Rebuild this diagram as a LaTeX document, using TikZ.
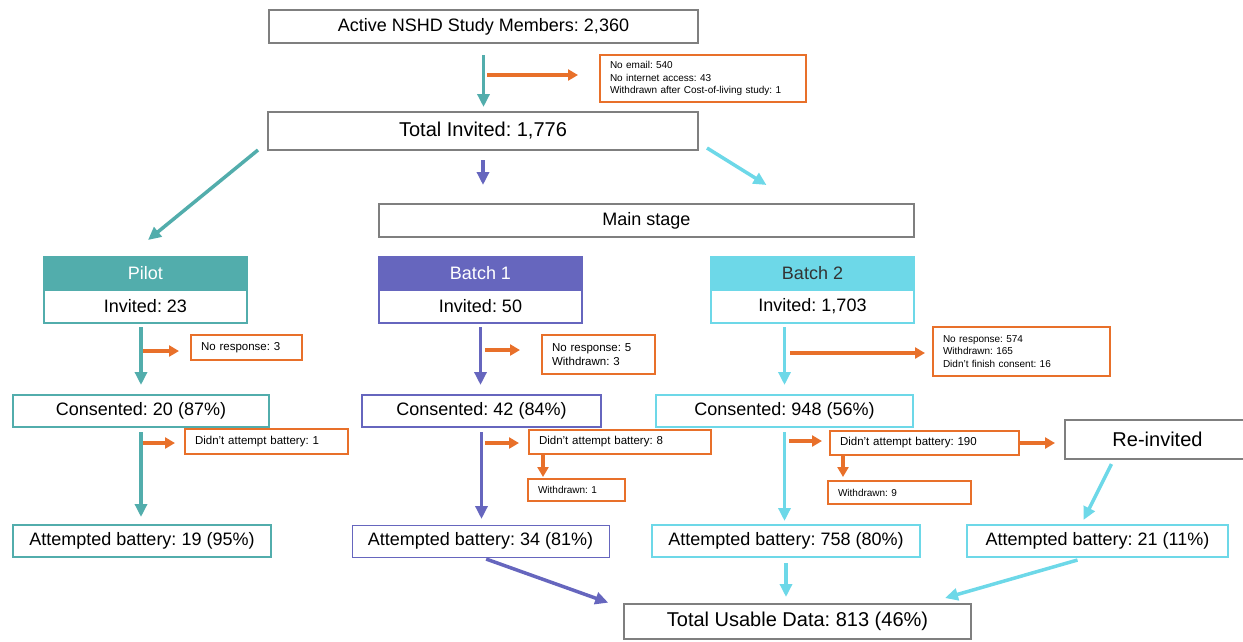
\documentclass[tikz,border=0pt]{standalone}
\usepackage{fontspec}
\setmainfont{Liberation Sans}
\usetikzlibrary{arrows.meta}
\definecolor{pilotteal}{HTML}{52ADAC}
\definecolor{batchpurple}{HTML}{6666BE}
\definecolor{batchcyan}{HTML}{6DD8E8}
\definecolor{droporange}{HTML}{E8702A}
\definecolor{boxgray}{HTML}{7F7F7F}
\frenchspacing

\begin{document}
\begin{tikzpicture}[x=1pt,y=-1pt,
  every node/.style={inner sep=0pt,outer sep=0pt},
  graybox/.style={draw=boxgray,line width=2.5pt,fill=white,font=\fontsize{18}{21}\selectfont},
  bigtext/.style={font=\fontsize{20}{24}\selectfont},
  headbox/.style={draw=#1,fill=#1,line width=1.5pt,minimum width=203pt,minimum height=33pt,font=\fontsize{18}{21}\selectfont},
  stagebox/.style={draw=#1,line width=1.5pt,fill=white,minimum height=32pt,font=\fontsize{18}{21}\selectfont},
  dropbox/.style={draw=droporange,line width=1.2pt,align=left,inner xsep=10pt,font=\fontsize{10}{12.5}\selectfont},
  bigdrop/.style={dropbox,font=\fontsize{11.5}{14}\selectfont},
  flow/.style={-{Triangle[length=13pt,width=12pt]},line width=3.5pt},
  drop/.style={-{Triangle[length=10pt,width=11pt]},line width=3.5pt,color=droporange}
]
\useasboundingbox (0,0) rectangle (1243,641);

\node[graybox,minimum width=429pt,minimum height=33pt] (members) at (483.5,26.5) {Active NSHD Study Members: 2,360};
\node[dropbox,text width=186pt,minimum height=47pt] (excluded) at (703,78.5) {No email: 540\\No internet access: 43\\Withdrawn after Cost-of-living study: 1};
\node[graybox,bigtext,minimum width=430pt,minimum height=38pt] (invited) at (483,131) {Total Invited: 1,776};
\node[graybox,minimum width=535pt,minimum height=33pt] (mainstage) at (646.5,220.5) {Main stage};

\node[headbox=pilotteal,text=white] (pilothead) at (145.5,273.5) {Pilot};
\node[stagebox=pilotteal,minimum width=203pt,minimum height=33pt] (pilotinv) at (145.5,306.5) {Invited: 23};
\node[bigdrop,text width=91pt,minimum height=25pt] (pilotnr) at (246.5,347.5) {No response: 3};
\node[stagebox=pilotteal,minimum width=256pt] (pilotcon) at (141,411) {Consented: 20 (87\%)};
\node[bigdrop,text width=143pt,minimum height=25pt] (pilotdna) at (266.5,441.5) {Didn’t attempt battery: 1};
\node[stagebox=pilotteal,minimum width=258pt] (pilotatt) at (142,541) {Attempted battery: 19 (95\%)};

\node[headbox=batchpurple,text=white] (bonehead) at (480.5,273.5) {Batch 1};
\node[stagebox=batchpurple,minimum width=203pt,minimum height=33pt] (boneinv) at (480.5,306.5) {Invited: 50};
\node[bigdrop,text width=93pt,minimum height=39pt] (bonenr) at (598.5,354.5) {No response: 5\\Withdrawn: 3};
\node[stagebox=batchpurple,minimum width=239pt] (bonecon) at (481.5,411) {Consented: 42 (84\%)};
\node[bigdrop,text width=162pt,minimum height=24pt] (bonedna) at (620,442) {Didn’t attempt battery: 8};
\node[dropbox,text width=77pt,minimum height=22pt] (bonewd) at (576.5,490) {Withdrawn: 1};
\node[stagebox=batchpurple,line width=1pt,minimum width=257pt] (boneatt) at (480.5,541) {Attempted battery: 34 (81\%)};

\node[headbox=batchcyan,text=black!80] (btwohead) at (812.5,273.5) {Batch 2};
\node[stagebox=batchcyan,minimum width=203pt,minimum height=33pt] (btwoinv) at (812.5,306.5) {Invited: 1,703};
\node[dropbox,text width=157pt,minimum height=49pt] (btwonr) at (1021.5,351.5) {No response: 574\\Withdrawn: 165\\Didn’t finish consent: 16};
\node[stagebox=batchcyan,minimum width=257pt] (btwocon) at (784.5,411) {Consented: 948 (56\%)};
\node[bigdrop,text width=169pt,minimum height=24pt] (btwodna) at (924.5,443) {Didn’t attempt battery: 190};
\node[dropbox,text width=123pt,minimum height=23pt] (btwowd) at (899.5,492.5) {Withdrawn: 9};
\node[graybox,bigtext,minimum width=185pt,minimum height=39pt] (reinv) at (1157.5,439.5) {Re-invited};
\node[stagebox=batchcyan,minimum width=268pt] (btwoatt) at (786,541) {Attempted battery: 758 (80\%)};
\node[stagebox=batchcyan,minimum width=261pt] (reatt) at (1097.5,541) {Attempted battery: 21 (11\%)};

\node[graybox,bigtext,minimum width=347pt,minimum height=35pt] (usable) at (797.5,621.5) {Total Usable Data: 813 (46\%)};

\coordinate (exstart) at (487,75);
\coordinate (pilotnrstart) at (143,351);
\coordinate (pilotdnastart) at (143,443);
\coordinate (bonenrstart) at (485,350);
\coordinate (bonednastart) at (485,443);
\coordinate (bonewdstart) at (543,454);
\coordinate (btwonrstart) at (790,353);
\coordinate (btwodnastart) at (789,441);
\coordinate (btwowdstart) at (843,455);

\draw[flow,color=pilotteal,shorten <=12pt,shorten >=5pt] (members.south) -- (members.south |- invited.north);
\draw[drop,shorten >=22pt] (exstart) -- (exstart -| excluded.west);
\draw[flow,color=pilotteal] ([xshift=-10pt]invited.south west) -- ([xshift=2.5pt,yshift=17pt]pilothead.north);
\draw[flow,color=batchpurple,shorten <=10pt,shorten >=19pt] (invited.south) -- (invited.south |- mainstage.north);
\draw[flow,color=batchcyan] ([xshift=9pt,yshift=2pt]invited.south east) -- ([xshift=-46pt,yshift=72pt]btwohead.north);

\draw[flow,color=pilotteal,shorten <=4pt,shorten >=10pt] (pilotcon.north |- pilotinv.south) -- (pilotcon.north);
\draw[drop,shorten >=12pt] (pilotnrstart) -- (pilotnrstart -| pilotnr.west);
\draw[flow,color=pilotteal,shorten <=5pt,shorten >=8pt] (pilotcon.south) -- (pilotcon.south |- pilotatt.north);
\draw[drop,shorten >=10pt] (pilotdnastart) -- (pilotdnastart -| pilotdna.west);

\draw[flow,color=batchpurple,shorten <=4pt,shorten >=10pt] (boneinv.south) -- (boneinv.south |- bonecon.north);
\draw[drop,shorten >=22pt] (bonenrstart) -- (bonenrstart -| bonenr.west);
\draw[flow,color=batchpurple,shorten <=5pt,shorten >=6pt] (bonecon.south) -- (bonecon.south |- boneatt.north);
\draw[drop,shorten >=10pt] (bonednastart) -- (bonednastart -| bonedna.west);
\draw[drop,shorten >=2pt] (bonewdstart) -- (bonewdstart |- bonewd.north);
\draw[flow,color=batchpurple,shorten <=6pt,shorten >=4pt] (boneatt.south) -- ([xshift=-12pt]usable.north west);

\draw[flow,color=batchcyan,shorten <=4pt,shorten >=10pt] (btwocon.north |- btwoinv.south) -- (btwocon.north);
\draw[drop,shorten >=8pt] (btwonrstart) -- (btwonrstart -| btwonr.west);
\draw[flow,color=batchcyan,shorten <=5pt,shorten >=4pt] (btwocon.south) -- (btwocon.south |- btwoatt.north);
\draw[drop,shorten >=8pt] (btwodnastart) -- (btwodnastart -| btwodna.west);
\draw[drop,shorten <=1pt,shorten >=10pt] (btwodna.east) -- (btwodna.east -| reinv.west);
\draw[drop,shorten >=4pt] (btwowdstart) -- (btwowdstart |- btwowd.north);
\draw[flow,color=batchcyan] ([xshift=-46pt,yshift=-5pt]reinv.south) -- ([xshift=-14pt,yshift=5pt]reatt.north);

\draw[flow,color=batchcyan,shorten <=6pt,shorten >=7pt] (btwoatt.south) -- (btwoatt.south |- usable.north);
\draw[flow,color=batchcyan] ([xshift=-20pt,yshift=-3pt]reatt.south) -- ([xshift=-26pt,yshift=6pt]usable.north east);
\end{tikzpicture}
\end{document}
